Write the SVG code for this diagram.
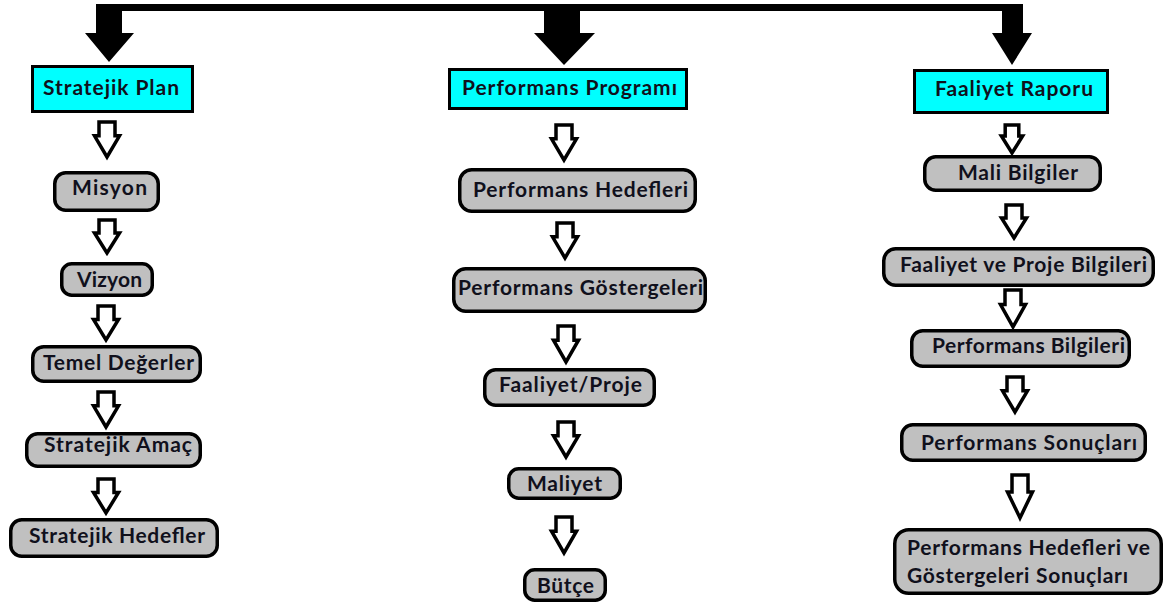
<svg xmlns="http://www.w3.org/2000/svg" width="1167" height="604" viewBox="0 0 1167 604">
  <style>
    .head { fill: #00ffff; stroke: #000; stroke-width: 3; }
    .step { fill: #c0c0c0; stroke: #000; stroke-width: 3.5; }
    .lbl { font-family: Lato, "Liberation Sans", sans-serif; font-weight: bold; font-size: 21px; fill: #10101c; }
    .down { fill: #fff; stroke: #000; stroke-width: 3.5; stroke-linejoin: miter; }
    .bold { fill: #000; }
  </style>
  <defs>
    <!-- hollow block arrow, 33 units tall, origin at top centre -->
    <path id="hollow" d="M -8,0 H 8 V 13 H 12.5 L 0,33 L -12.5,13 H -8 Z" vector-effect="non-scaling-stroke"/>
  </defs>

  <g id="connectors">
    <!-- top distribution bar with three solid arrows -->
    <rect class="bold" x="96" y="4" width="927" height="7"/>
    <polygon class="bold" points="96,4 122,4 122,33 134,33 109,62 85,33 96,33"/>
    <polygon class="bold" points="544,11 580,11 580,33 595,33 564,65 534,33 544,33"/>
    <polygon class="bold" points="1002,4 1023,4 1023,33 1032,33 1012,65 992,33 1002,33"/>

    <!-- left column -->
    <use href="#hollow" class="down" transform="translate(107,122) scale(1,1.06)"/>
    <use href="#hollow" class="down" transform="translate(107,220) scale(1,1)"/>
    <use href="#hollow" class="down" transform="translate(106,306) scale(1,1.03)"/>
    <use href="#hollow" class="down" transform="translate(106,392) scale(1,1.06)"/>
    <use href="#hollow" class="down" transform="translate(106,479) scale(1,1.03)"/>

    <!-- middle column -->
    <use href="#hollow" class="down" transform="translate(564,125) scale(1,1.06)"/>
    <use href="#hollow" class="down" transform="translate(565,223) scale(1,1.06)"/>
    <use href="#hollow" class="down" transform="translate(566,326) scale(1,1.09)"/>
    <use href="#hollow" class="down" transform="translate(566,422) scale(1,1.06)"/>
    <use href="#hollow" class="down" transform="translate(564,517) scale(1,1.09)"/>

    <!-- right column -->
    <use href="#hollow" class="down" transform="translate(1012,125) scale(0.85,0.85)"/>
    <use href="#hollow" class="down" transform="translate(1014,205) scale(1,1)"/>
    <use href="#hollow" class="down" transform="translate(1013,290) scale(1,1.12)"/>
    <use href="#hollow" class="down" transform="translate(1015,377) scale(1,1.06)"/>
    <use href="#hollow" class="down" transform="translate(1020,475) scale(1,1.3)"/>
  </g>

  <!-- column headers -->
  <g id="stratejik-plan">
    <rect class="head" x="32.5" y="66.5" width="160" height="45"/>
    <text class="lbl" x="43" y="95" textLength="136" lengthAdjust="spacing">Stratejik Plan</text>
  </g>
  <g id="performans-programi">
    <rect class="head" x="449.5" y="69.5" width="237" height="39"/>
    <text class="lbl" x="462" y="95" textLength="215" lengthAdjust="spacing">Performans Programı</text>
  </g>
  <g id="faaliyet-raporu">
    <rect class="head" x="914.5" y="70.5" width="193" height="42"/>
    <text class="lbl" x="935" y="96" textLength="158" lengthAdjust="spacing">Faaliyet Raporu</text>
  </g>

  <!-- left column steps -->
  <g id="misyon">
    <rect class="step" x="54.75" y="172.75" width="103.5" height="37.5" rx="11"/>
    <text class="lbl" x="72" y="195" textLength="75" lengthAdjust="spacing">Misyon</text>
  </g>
  <g id="vizyon">
    <rect class="step" x="61.75" y="263.75" width="90.5" height="31.5" rx="10"/>
    <text class="lbl" x="77" y="287" textLength="65" lengthAdjust="spacing">Vizyon</text>
  </g>
  <g id="temel-degerler">
    <rect class="step" x="32.75" y="346.75" width="167.5" height="34.5" rx="11"/>
    <text class="lbl" x="43" y="370" textLength="151" lengthAdjust="spacing">Temel Değerler</text>
  </g>
  <g id="stratejik-amac">
    <rect class="step" x="26.75" y="433.75" width="173.5" height="32.5" rx="11"/>
    <text class="lbl" x="44" y="452" textLength="148" lengthAdjust="spacing">Stratejik Amaç</text>
  </g>
  <g id="stratejik-hedefler">
    <rect class="step" x="10.75" y="519.75" width="206.5" height="36.5" rx="11"/>
    <text class="lbl" x="29" y="543" textLength="176" lengthAdjust="spacing">Stratejik Hedefler</text>
  </g>

  <!-- middle column steps -->
  <g id="performans-hedefleri">
    <rect class="step" x="459.75" y="169.75" width="235.5" height="41.5" rx="12"/>
    <text class="lbl" x="473" y="197" textLength="215" lengthAdjust="spacing">Performans Hedefleri</text>
  </g>
  <g id="performans-gostergeleri">
    <rect class="step" x="453.75" y="268.75" width="251.5" height="42.5" rx="12"/>
    <text class="lbl" x="458" y="295" textLength="245" lengthAdjust="spacing">Performans Göstergeleri</text>
  </g>
  <g id="faaliyet-proje">
    <rect class="step" x="484.75" y="369.75" width="169.5" height="35.5" rx="11"/>
    <text class="lbl" x="499" y="392" textLength="143" lengthAdjust="spacing">Faaliyet/Proje</text>
  </g>
  <g id="maliyet">
    <rect class="step" x="508.75" y="468.75" width="111.5" height="29.5" rx="10"/>
    <text class="lbl" x="527" y="491" textLength="75" lengthAdjust="spacing">Maliyet</text>
  </g>
  <g id="butce">
    <rect class="step" x="524.75" y="569.75" width="80.5" height="30.5" rx="10"/>
    <text class="lbl" x="537" y="593" textLength="57" lengthAdjust="spacing">Bütçe</text>
  </g>

  <!-- right column steps -->
  <g id="mali-bilgiler">
    <rect class="step" x="924.75" y="156.75" width="175.5" height="33.5" rx="11"/>
    <text class="lbl" x="958" y="180" textLength="120" lengthAdjust="spacing">Mali Bilgiler</text>
  </g>
  <g id="faaliyet-ve-proje-bilgileri">
    <rect class="step" x="883.75" y="248.75" width="269.5" height="36.5" rx="12"/>
    <text class="lbl" x="900" y="272" textLength="247" lengthAdjust="spacing">Faaliyet ve Proje Bilgileri</text>
  </g>
  <g id="performans-bilgileri">
    <rect class="step" x="911.75" y="330.75" width="217.5" height="35.5" rx="11"/>
    <text class="lbl" x="932" y="353" textLength="193" lengthAdjust="spacing">Performans Bilgileri</text>
  </g>
  <g id="performans-sonuclari">
    <rect class="step" x="901.75" y="424.75" width="243.5" height="35.5" rx="11"/>
    <text class="lbl" x="921" y="450" textLength="216" lengthAdjust="spacing">Performans Sonuçları</text>
  </g>
  <g id="hedef-gosterge-sonuclari">
    <rect class="step" x="894.75" y="529.75" width="266.5" height="63.5" rx="14"/>
    <text class="lbl" x="907" y="555" textLength="243" lengthAdjust="spacing">Performans Hedefleri ve</text>
    <text class="lbl" x="907" y="583" textLength="221" lengthAdjust="spacing">Göstergeleri Sonuçları</text>
  </g>
</svg>
